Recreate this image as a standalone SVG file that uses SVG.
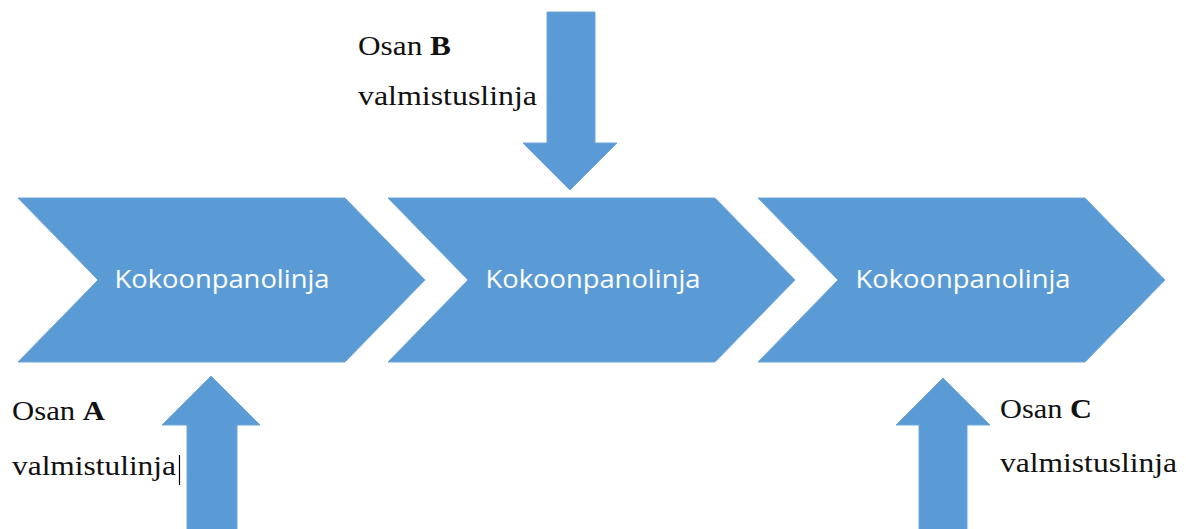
<svg xmlns="http://www.w3.org/2000/svg" width="1186" height="529" viewBox="0 0 1186 529">
  <style>
    .shape { fill: #5B9BD5; stroke: #6FA6DA; stroke-width: 1; }
    .stage { font-family: "Open Sans", "Noto Sans", sans-serif; font-size: 25px; fill: #FFFFFF; text-anchor: middle; }
    .note { font-family: "Liberation Serif", "Times New Roman", serif; font-size: 27px; fill: #111111; }
    .key { font-weight: bold; }
  </style>
  <defs>
    <polygon id="chevron" points="0,0 327,0 407,82 327,164 0,164 80,82"/>
  </defs>

  <rect width="1186" height="529" fill="#FFFFFF"/>

  <!-- assembly line stages -->
  <g id="stage-1">
    <use href="#chevron" class="shape" x="18" y="198"/>
    <text class="stage" x="222" y="288" textLength="215" lengthAdjust="spacingAndGlyphs">Kokoonpanolinja</text>
  </g>
  <g id="stage-2">
    <use href="#chevron" class="shape" x="388" y="198"/>
    <text class="stage" x="593" y="288" textLength="215" lengthAdjust="spacingAndGlyphs">Kokoonpanolinja</text>
  </g>
  <g id="stage-3">
    <use href="#chevron" class="shape" x="758" y="198"/>
    <text class="stage" x="963" y="288" textLength="215" lengthAdjust="spacingAndGlyphs">Kokoonpanolinja</text>
  </g>

  <!-- part supply arrows -->
  <g id="connectors">
    <polygon id="feed-b" class="shape" points="547,12 595,12 595,143 617,143 570,190 523,143 547,143"/>
    <polygon id="feed-a" class="shape" points="211,376 260,425 237,425 237,530 187,530 187,425 162,425"/>
    <polygon id="feed-c" class="shape" points="943,378 990,425 967,425 967,530 919,530 919,425 896,425"/>
  </g>

  <!-- part line labels -->
  <g id="label-b" font-family="'Liberation Serif', serif">
    <text class="note" x="358" y="55" textLength="93" lengthAdjust="spacingAndGlyphs">Osan <tspan class="key">B</tspan></text>
    <text class="note" x="358" y="105" textLength="179" lengthAdjust="spacingAndGlyphs">valmistuslinja</text>
  </g>
  <g id="label-a" font-family="'Liberation Serif', serif">
    <text class="note" x="12" y="420" textLength="93" lengthAdjust="spacingAndGlyphs">Osan <tspan class="key">A</tspan></text>
    <text class="note" x="12" y="475" textLength="164" lengthAdjust="spacingAndGlyphs">valmistulinja</text>
    <line x1="179.5" y1="455" x2="179.5" y2="485" stroke="#000000" stroke-width="1.2"/>
  </g>
  <g id="label-c" font-family="'Liberation Serif', serif">
    <text class="note" x="1000" y="418" textLength="92" lengthAdjust="spacingAndGlyphs">Osan <tspan class="key">C</tspan></text>
    <text class="note" x="1000" y="472" textLength="177" lengthAdjust="spacingAndGlyphs">valmistuslinja</text>
  </g>
</svg>
